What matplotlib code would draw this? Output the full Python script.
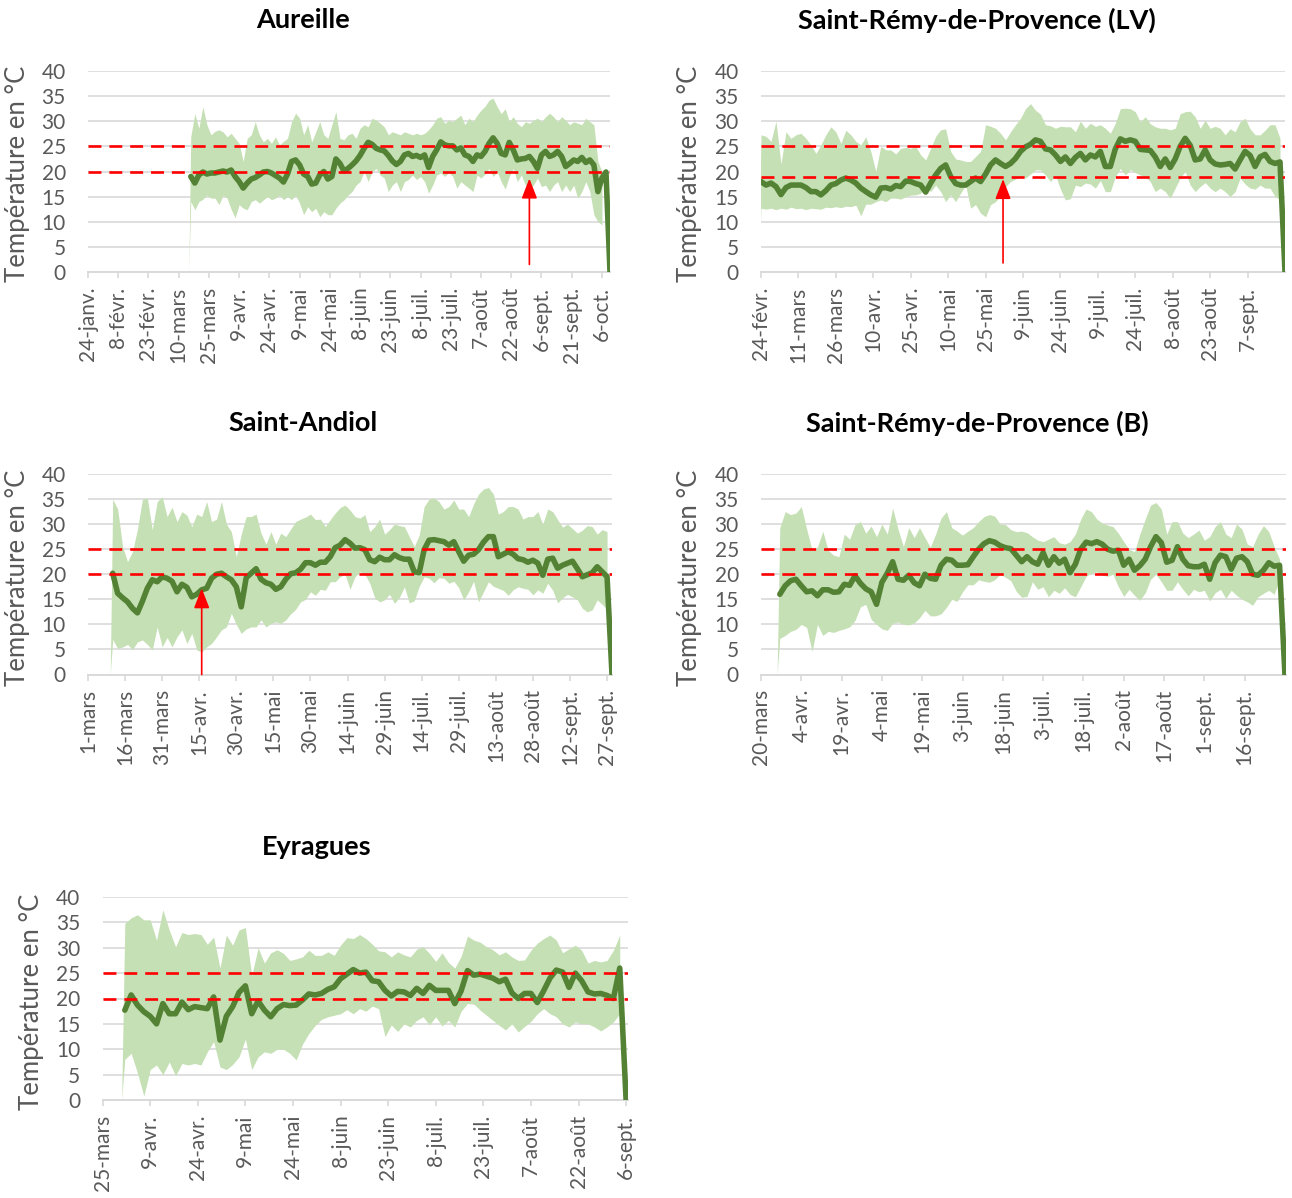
import numpy as np
import pandas as pd
import matplotlib
matplotlib.use("Agg")
import matplotlib.pyplot as plt

plt.rcParams['font.family'] = ['Lato', 'DejaVu Sans']

MOIS = ['janv.', 'févr.', 'mars', 'avr.', 'mai', 'juin', 'juil.',
        'août', 'sept.', 'oct.', 'nov.', 'déc.']

# ---------------------------------------------------------------- Aureille
aur_debut_axe = '2023-01-24'
aur_nb_graduations = 18
aur_premier_jour = '2023-03-16'
aur_moy = [19.0, 17.7, 19.3, 19.9, 19.5, 19.7, 19.7, 19.9, 20.1, 19.9,
           20.3, 19.0, 18.0, 16.7, 17.7, 18.5, 18.8, 19.3, 19.9, 20.0,
           19.7, 19.2, 18.7, 17.9, 19.5, 22.0, 22.3, 21.3, 19.5, 19.0,
           17.5, 17.7, 19.3, 20.0, 18.5, 19.0, 22.5, 21.6, 20.1, 20.6,
           21.3, 22.1, 23.2, 24.6, 25.8, 25.4, 24.6, 24.3, 24.1, 23.2,
           22.1, 21.4, 22.0, 23.3, 23.6, 23.0, 23.2, 22.8, 23.3, 20.8,
           23.0, 24.3, 25.9, 25.3, 25.1, 25.1, 24.3, 24.7, 23.3, 23.0,
           22.0, 23.3, 23.0, 24.0, 25.6, 26.7, 25.6, 23.6, 23.3, 25.8,
           24.3, 22.3, 22.5, 22.6, 23.0, 22.0, 20.6, 23.3, 24.0, 23.0,
           23.3, 24.0, 23.0, 21.0, 21.6, 22.3, 22.0, 22.8, 21.8, 22.3,
           21.3, 16.0, 18.7, 19.9, 0.0]
aur_max = [27.0, 31.5, 28.6, 32.9, 29.3, 27.3, 28.0, 28.3, 27.9, 26.9,
           27.6, 26.6, 25.6, 22.0, 26.6, 27.3, 29.9, 27.3, 25.9, 26.6,
           25.6, 26.9, 25.3, 26.0, 26.6, 29.9, 31.6, 30.6, 27.3, 29.3,
           25.9, 27.9, 29.9, 27.3, 26.6, 29.3, 31.9, 26.6, 26.3, 27.3,
           27.6, 26.6, 28.6, 29.3, 28.9, 30.6, 30.2, 29.6, 28.9, 27.3,
           27.9, 27.6, 27.3, 27.9, 27.6, 27.3, 27.6, 27.3, 27.6, 28.3,
           29.3, 30.6, 30.9, 29.6, 30.2, 29.9, 30.6, 31.2, 29.3, 30.6,
           29.9, 31.2, 32.2, 33.0, 34.2, 34.6, 32.9, 31.5, 32.5, 30.0,
           30.9, 29.6, 28.9, 29.9, 29.6, 30.2, 30.6, 29.9, 30.9, 31.6,
           30.9, 29.9, 30.9, 30.2, 29.3, 29.9, 29.6, 29.3, 30.6, 29.9,
           29.3, 22.0, 20.0]
aur_min = [14.0, 12.4, 14.0, 14.5, 15.3, 14.7, 14.7, 13.4, 15.3, 14.7,
           12.5, 10.8, 13.4, 12.7, 12.4, 14.0, 14.4, 13.7, 14.35, 15.0,
           14.4, 14.7, 15.3, 14.4, 15.0, 14.4, 15.3, 13.7, 11.4, 13.0,
           12.0, 12.7, 11.0, 12.0, 11.4, 11.4, 12.7, 13.7, 14.35, 15.3,
           16.0, 17.3, 18.0, 20.0, 18.0, 20.0, 20.6, 19.3, 18.7, 16.0,
           17.3, 18.0, 16.0, 18.0, 18.4, 19.3, 18.4, 19.0, 18.0, 15.7,
           17.3, 19.3, 19.7, 19.0, 19.8, 19.0, 16.7, 18.0, 17.3, 16.7,
           16.0, 19.3, 18.7, 19.5, 20.6, 19.0, 20.0, 18.0, 16.5, 19.0,
           20.6, 18.0, 19.3, 17.3, 16.7, 17.3, 18.7, 17.0, 17.3, 16.0,
           17.3, 18.0, 16.0, 17.3, 16.0, 17.3, 14.7, 16.0, 18.0, 16.0,
           11.4, 10.0, 9.4]
aur_seuils = [20, 25]
aur_fleche = ('2023-08-31', 18.6)

# ------------------------------------------- Saint-Rémy-de-Provence (LV)
lv_debut_axe = '2023-02-24'
lv_nb_graduations = 14
lv_premier_jour = '2023-02-24'
lv_moy = [18.0, 17.3, 17.7, 17.0, 15.4, 16.8, 17.3, 17.3, 17.3, 16.8,
          16.0, 16.0, 15.35, 16.2, 17.3, 17.6, 18.3, 18.7, 18.3, 17.7,
          16.7, 16.0, 15.35, 14.9, 16.7, 16.8, 16.5, 17.2, 17.0, 18.1,
          18.0, 17.6, 17.3, 15.9, 17.7, 19.3, 20.6, 21.3, 19.0, 17.6,
          17.3, 17.3, 18.0, 18.7, 18.0, 19.5, 21.3, 22.3, 21.6, 21.0,
          21.6, 22.6, 24.0,
          24.9, 25.4, 26.3, 26.0, 24.5, 24.3, 23.3, 22.0, 22.9, 21.6,
          22.8, 23.6, 22.3, 23.3, 22.9, 24.0, 21.0, 21.0, 24.5, 26.5,
          26.0, 26.3, 26.0, 24.4, 24.3, 24.2, 22.9, 21.0, 22.5, 20.8,
          22.5, 25.0, 26.6, 25.2, 22.3, 22.5, 24.3, 22.3, 21.5, 21.3,
          21.4, 21.6, 20.5, 22.3, 24.0, 23.2, 21.0, 22.9, 23.4, 22.0,
          21.6, 21.9, 0.0]
lv_max = [27.3, 27.0, 26.0, 30.0, 21.5, 27.9, 26.6, 27.3, 27.6, 26.6,
          25.3, 23.6, 25.3, 27.3, 28.9, 27.9, 25.6, 28.2, 27.3, 26.0,
          25.3, 26.9, 24.0, 20.0, 25.0, 24.3, 24.3, 23.5, 24.6, 24.8,
          24.6, 25.0, 23.3, 22.3, 24.6, 27.0, 28.3, 28.5, 24.0, 22.5,
          22.3, 22.0, 22.0, 23.0, 24.0, 29.3, 29.0, 28.6, 27.6, 26.3,
          27.9, 29.3, 30.6,
          32.5, 33.5, 32.2, 31.4, 29.3, 29.1, 28.6, 29.0, 28.9, 28.9,
          27.9, 30.0, 28.6, 29.6, 29.0, 29.3, 28.6, 27.6, 29.6, 32.5,
          32.6, 32.5, 31.9, 29.9, 30.9, 29.5, 28.9, 28.6, 28.6, 28.3,
          28.6, 31.5, 31.9, 32.0, 30.9, 28.6, 30.2, 28.6, 29.0, 28.6,
          27.3, 28.5, 27.9, 29.9, 30.6, 28.5, 27.3, 27.3, 28.2, 29.3,
          29.3, 26.6]
lv_min = [12.7, 12.5, 12.7, 12.4, 12.7, 12.5, 12.9, 12.6, 12.7, 12.4,
          12.7, 12.6, 12.5, 12.9, 12.8, 13.0, 12.8, 13.1, 13.0, 13.3,
          11.2, 13.5, 13.5, 14.0, 14.35, 14.0, 14.7, 14.7, 14.5, 15.0,
          15.3, 15.35, 15.7, 17.0, 16.0, 17.3, 16.0, 14.0, 15.35, 14.0,
          15.7, 17.3, 12.7, 13.4, 11.7, 11.0, 13.4, 14.0, 15.3, 17.0,
          18.0, 18.5, 19.0,
          18.7, 19.5, 20.3, 20.3, 19.3, 18.0, 19.3, 16.5, 14.35, 14.6,
          17.3, 17.0, 17.7, 17.5, 16.7, 18.2, 16.0, 16.0, 19.0, 20.6,
          19.3, 20.4, 19.8, 19.3, 19.0, 18.0, 16.0, 16.7, 16.0, 14.7,
          16.7, 18.7, 20.0, 17.3, 16.0, 17.0, 17.8, 16.7, 16.0, 16.7,
          16.0, 15.0, 16.0, 18.7, 17.5, 16.7, 16.5, 17.3, 16.7, 16.7,
          15.0, 14.5]
lv_seuils = [19, 25]
lv_fleche = ('2023-06-01', 18.5)

# ------------------------------------------------------------ Saint-Andiol
and_debut_axe = '2023-03-01'
and_nb_graduations = 15
and_premier_jour = '2023-03-11'
and_moy = [20.2, 16.2, 15.3, 14.5, 13.2, 12.3, 14.6, 17.2, 18.9, 18.5,
           19.5, 19.2, 18.6, 16.5, 18.0, 17.4, 15.5, 16.0, 16.9, 17.2,
           19.2, 20.0, 20.2, 19.5, 18.9, 17.5, 13.5, 19.3, 20.2, 21.1,
           19.0, 18.3, 18.0, 17.0, 17.5, 19.0, 20.1, 20.3, 21.0, 22.3,
           22.3, 21.8, 22.4, 22.4, 23.5, 25.3, 25.8, 26.9, 26.2, 25.2,
           25.3,
           24.9, 22.9, 22.5, 23.4, 22.9, 22.9, 23.9, 23.3, 23.0, 23.0,
           20.5, 20.3, 24.9, 26.8, 26.9, 26.7, 26.5, 25.8, 26.5, 24.5,
           22.6, 23.8, 24.0, 24.9, 26.4, 27.5, 27.5, 23.5, 24.0, 24.5,
           24.0, 23.1, 22.9, 22.4, 22.8, 22.2, 19.8, 23.0, 23.2, 21.2,
           21.8, 22.2, 22.6, 21.1, 19.5, 19.9, 20.3, 21.5, 20.5, 19.5,
           0.0]
and_max = [35.0, 33.0, 25.5, 22.5, 24.5, 29.0, 34.9, 35.2, 28.9, 34.5,
           35.5, 31.5, 33.4, 30.5, 32.5, 31.8, 29.5, 32.0, 31.5, 34.5,
           30.5, 31.0, 34.5, 30.0, 28.5, 23.5, 28.0, 31.5, 31.5, 32.0,
           28.2, 26.0, 28.5, 26.0, 28.2, 27.5, 29.0, 30.5, 31.0, 31.4,
           32.0, 30.9, 31.0, 29.5, 30.9, 32.2, 33.3, 33.8, 32.8, 31.5,
           31.2,
           31.9, 28.5, 29.5, 31.0, 28.0, 28.9, 30.0, 29.7, 29.5, 27.5,
           25.5, 27.8, 33.5, 35.0, 35.2, 34.5, 33.0, 33.5, 34.8, 33.0,
           33.0, 31.5, 34.0, 36.0, 37.0, 37.3, 36.0, 32.0, 32.5, 33.5,
           33.5, 33.0, 31.0, 31.5, 31.5, 32.5, 30.0, 33.0, 32.5, 30.9,
           29.4, 30.0, 29.1, 28.2, 28.8, 29.7, 29.5, 28.0, 28.9, 28.5]
and_min = [7.0, 5.2, 5.5, 6.0, 5.0, 6.5, 6.9, 6.0, 4.9, 9.5,
           5.5, 7.4, 5.5, 7.5, 8.9, 6.2, 8.2, 4.9, 4.5, 5.5,
           6.2, 7.5, 8.9, 9.5, 12.2, 10.0, 8.2, 9.1, 9.5, 9.5,
           10.9, 9.5, 10.2, 10.5, 10.2, 10.9, 12.1, 13.0, 14.5, 15.0,
           16.5, 15.8, 17.0, 16.8, 18.5, 18.5, 19.5, 20.0, 17.0, 19.5,
           20.5,
           20.0, 18.2, 15.3, 14.5, 14.9, 16.0, 14.2, 15.4, 17.5, 14.3,
           14.7, 17.6, 19.5, 19.2, 18.3, 19.3, 19.2, 18.2, 18.6, 17.3,
           14.9, 16.5, 18.6, 14.5, 16.5, 18.5, 17.6, 17.2, 16.8, 15.8,
           16.9, 17.5, 17.2, 17.0, 15.9, 16.9, 16.2, 18.2, 16.8, 14.3,
           15.3, 16.0, 15.5, 14.9, 13.2, 12.5, 12.9, 14.9, 14.0, 13.0]
and_seuils = [20, 25]
and_fleche = ('2023-04-16', 17.2)

# -------------------------------------------- Saint-Rémy-de-Provence (B)
b_debut_axe = '2023-03-20'
b_nb_graduations = 13
b_premier_jour = '2023-03-27'
b_moy = [16.0, 17.7, 18.7, 19.0, 17.7, 16.5, 16.7, 15.7, 16.9, 16.9,
         16.4, 16.5, 18.0, 17.8, 19.7, 18.2, 17.1, 16.5, 14.0, 18.4,
         20.2, 22.5, 19.0, 18.8, 19.8, 18.3, 17.7, 20.0, 19.2, 19.0,
         21.8, 23.0, 22.8, 21.8, 21.8, 21.9, 23.5, 25.0, 26.1, 26.7,
         26.4, 25.7, 25.3, 25.1, 23.8, 22.5, 23.5,
         22.5, 22.0, 24.3, 21.8, 23.5, 22.2, 23.0, 20.3, 22.0, 25.0,
         26.4, 26.1, 26.5, 26.0, 25.0, 24.6, 24.8, 21.8, 23.0, 20.8,
         21.7, 23.0, 25.5, 27.5, 26.3, 22.4, 22.8, 25.5, 23.0, 21.7,
         21.5, 21.5, 22.0, 19.0, 22.3, 23.8, 23.5, 21.0, 23.2, 23.5,
         22.5, 20.0, 19.8, 20.8, 22.3, 21.6, 21.8, 0.0]
b_max = [29.3, 32.5, 31.9, 32.2, 33.5, 29.0, 24.8, 25.4, 28.6, 24.8,
         23.8, 23.5, 28.0, 27.0, 29.9, 30.5, 28.2, 29.6, 27.5, 30.0,
         28.0, 33.2, 29.0, 25.5, 29.3, 27.3, 29.3, 27.3, 25.4, 28.0,
         31.2, 32.5, 29.3, 28.6, 27.8, 28.6, 29.3, 30.5, 31.5, 31.9,
         31.6, 30.0, 29.9, 28.9, 28.5, 28.6, 28.3,
         27.5, 26.8, 26.5, 27.0, 27.5, 26.3, 26.0, 26.5, 28.0, 31.0,
         33.0, 32.5, 31.0, 30.2, 29.8, 29.5, 28.2, 26.5, 25.0, 24.5,
         28.0, 31.0, 33.8, 34.3, 33.0, 28.0, 30.5, 30.5, 28.2, 27.3,
         28.0, 28.8, 26.8, 27.5, 29.5, 30.5, 28.0, 27.3, 30.0, 29.0,
         26.0, 25.5, 28.0, 29.7, 28.5, 25.5, 23.0]
b_min = [7.2, 7.8, 8.6, 9.0, 10.0, 9.4, 4.6, 10.0, 7.8, 8.6,
         8.4, 8.8, 9.1, 9.5, 10.8, 13.5, 14.0, 11.0, 10.0, 9.1,
         8.8, 10.2, 10.5, 10.0, 9.9, 10.3, 11.3, 12.8, 11.7, 11.7,
         12.1, 13.4, 15.0, 14.6, 16.5, 17.9, 17.9, 18.9, 18.6, 18.4,
         18.9, 20.0, 19.4, 18.7, 16.6, 15.4, 15.6,
         18.5, 17.0, 17.5, 15.5, 16.8, 16.2, 17.3, 16.0, 15.5, 17.5,
         19.6, 20.2, 20.5, 19.8, 19.6, 20.0, 17.5, 15.6, 17.0, 15.8,
         14.8, 16.3, 19.0, 20.0, 18.5, 16.8, 16.8, 18.5, 17.0, 15.7,
         17.0, 16.5, 16.8, 14.7, 16.3, 17.0, 15.2, 16.8, 15.8, 15.0,
         14.5, 13.8, 15.5, 16.2, 16.8, 16.0, 19.0]
b_seuils = [20, 25]

# ---------------------------------------------------------------- Eyragues
eyr_debut_axe = '2023-03-25'
eyr_nb_graduations = 12
eyr_premier_jour = '2023-04-01'
eyr_moy = [17.7, 20.7, 18.7, 17.4, 16.5, 15.0, 19.0, 17.0, 17.0, 19.3,
           17.8, 18.4, 18.2, 18.0, 20.3, 11.8, 16.5, 18.4, 21.2, 22.5,
           17.0, 19.5, 17.7, 16.4, 18.0, 18.8, 18.6, 18.7, 19.7, 20.9,
           20.7, 21.0, 21.8, 22.3, 23.9, 24.8, 25.7, 25.0, 25.2, 23.5,
           23.3, 21.6, 20.5, 21.4, 21.3, 20.6, 22.0, 21.0, 22.6, 21.6,
           21.6, 21.6, 19.0, 21.5, 25.5, 24.6, 24.8, 24.4, 24.0, 23.3,
           23.8, 21.1, 20.0, 21.0, 21.0, 19.2, 21.5, 24.0, 25.6, 25.2,
           22.2, 25.0, 23.5, 21.3, 20.9, 21.0, 20.6, 20.0, 26.0, 0.0]
eyr_max = [34.8, 35.9, 36.5, 35.5, 35.5, 31.5, 37.5, 33.5, 30.2, 33.0,
           32.6, 32.8, 32.6, 30.7, 32.1, 26.0, 32.5, 30.5, 33.5, 34.0,
           24.5, 30.0, 27.0, 29.0, 29.6, 28.9, 27.5, 27.8, 28.2, 29.5,
           28.5, 28.5, 29.2, 28.5, 30.5, 32.0, 31.8, 32.6, 31.8, 30.7,
           29.4, 29.2, 28.2, 29.2, 28.6, 28.2, 29.7, 30.2, 28.9, 27.3,
           29.0, 27.1, 26.0, 28.3, 32.3, 31.5, 31.1, 30.2, 29.6, 28.6,
           29.2, 28.2, 27.5, 27.6, 29.5, 30.9, 31.8, 32.5, 31.5, 29.0,
           29.8, 30.5, 29.5, 27.0, 27.5, 27.2, 27.5, 29.5, 32.5]
eyr_min = [8.0, 9.2, 5.3, 0.8, 6.0, 6.9, 5.0, 7.5, 4.8, 7.2,
           6.9, 7.2, 6.9, 9.5, 11.5, 6.5, 6.0, 7.0, 8.5, 12.0,
           6.0, 8.5, 9.5, 9.2, 10.0, 10.0, 9.2, 7.9, 11.0, 13.1,
           14.7, 15.9, 16.4, 16.7, 17.0, 17.8, 17.0, 18.0, 17.5, 18.5,
           18.0, 12.5, 14.8, 13.5, 15.0, 14.4, 15.7, 16.4, 14.8, 16.4,
           14.6, 15.7, 14.4, 17.5, 19.0, 18.9, 17.7, 16.7, 15.7, 14.7,
           13.8, 15.0, 13.4, 14.5, 15.5, 17.0, 18.0, 17.0, 16.4, 15.0,
           14.4, 15.4, 15.0, 15.0, 14.4, 13.6, 14.4, 15.4, 17.0]
eyr_seuils = [20, 25]

PAS_JOURS = 2
TITRE_Y = 'Température en °C'

# ------------------------------------------------------------------ figure
W, H = 1292, 1198
fig = plt.figure(figsize=(W / 100, H / 100), dpi=100)

VERT_CLAIR = '#C5E0B4'
VERT_FONCE = '#548235'
GRIS_GRILLE = '#D9D9D9'
GRIS_TEXTE = '#595959'
ROUGE = '#FF0000'
FS_TICK = 15
FS_LAB = 18.5
FS_TITRE = 19.5


def libelle(ts):
    return f"{ts.day}-{MOIS[ts.month - 1]}"


def panneau(rect, fin_axe, titre, pos_titre, pos_lab, debut_axe, nb_grad,
            premier, moy, tmax, tmin, seuils, fleche=None, base_fleche=0.0):
    l, t, r, b = rect
    ax = fig.add_axes([l / W, 1 - b / H, (r - l) / W, (b - t) / H])
    t0 = pd.Timestamp(debut_axe)
    d0 = (pd.Timestamp(premier) - t0).days

    # band between daily minimum and maximum (stacked-area style start)
    xb = d0 + PAS_JOURS * np.arange(len(tmax))
    xb = np.concatenate([[d0 - 1], xb])
    lo = np.concatenate([[0.0], np.asarray(tmin, float)])
    hi = np.concatenate([[0.0], np.asarray(tmax, float)])
    ax.fill_between(xb, lo, hi, color=VERT_CLAIR, lw=0, zorder=2)

    # daily mean
    xm = d0 + PAS_JOURS * np.arange(len(moy))
    ax.plot(xm, moy, color=VERT_FONCE, lw=4.0, solid_joinstyle='round',
            solid_capstyle='round', zorder=3)

    for s in seuils:
        ax.axhline(s, color=ROUGE, lw=1.9, dashes=(4.9, 3.0), zorder=4)

    if fleche is not None:
        xa = (pd.Timestamp(fleche[0]) - t0).days
        ax.annotate('', xy=(xa, fleche[1]), xytext=(xa, base_fleche),
                    arrowprops=dict(arrowstyle='-|>,head_length=0.87,head_width=0.34',
                                    color=ROUGE, lw=1.2, mutation_scale=14,
                                    shrinkA=0, shrinkB=0),
                    zorder=6)

    ax.set_xlim(0, fin_axe)
    ax.set_ylim(0, 40)
    ax.set_yticks(np.arange(0, 41, 5))
    ax.grid(axis='y', color=GRIS_GRILLE, lw=1.2, zorder=0)
    ax.set_axisbelow(True)

    pos = np.arange(nb_grad) * 15
    ax.set_xticks(pos)
    ax.set_xticklabels([libelle(t0 + pd.Timedelta(days=int(p))) for p in pos],
                       rotation=90, fontsize=FS_TICK, color=GRIS_TEXTE)
    ax.tick_params(axis='x', length=4.5, width=1.2, color=GRIS_GRILLE, pad=6)
    ax.tick_params(axis='y', length=0, pad=16, labelsize=FS_TICK,
                   labelcolor=GRIS_TEXTE)
    for side in ('left', 'right', 'top'):
        ax.spines[side].set_visible(False)
    ax.spines['bottom'].set_color(GRIS_GRILLE)
    ax.spines['bottom'].set_linewidth(1.4)
    ax.spines['bottom'].set_zorder(1)

    fig.text(pos_titre[0] / W, 1 - pos_titre[1] / H, titre, ha='center',
             va='center', fontsize=FS_TITRE, fontweight='bold', color='black')
    fig.text(pos_lab[0] / W, 1 - pos_lab[1] / H, TITRE_Y, ha='center',
             va='center', rotation=90, fontsize=FS_LAB, color=GRIS_TEXTE)
    return ax


panneau((88, 71, 610, 272), 259, 'Aureille', (303, 20), (18, 174),
        aur_debut_axe, aur_nb_graduations, aur_premier_jour,
        aur_moy, aur_max, aur_min, aur_seuils, aur_fleche, 1.5)
panneau((761, 71, 1285, 272), 210, 'Saint-Rémy-de-Provence (LV)', (977, 20),
        (690, 174), lv_debut_axe, lv_nb_graduations, lv_premier_jour,
        lv_moy, lv_max, lv_min, lv_seuils, lv_fleche, 1.8)
panneau((88, 474, 612, 674.5), 212, 'Saint-Andiol', (303, 423), (18, 578),
        and_debut_axe, and_nb_graduations, and_premier_jour,
        and_moy, and_max, and_min, and_seuils, and_fleche, 0.0)
panneau((761, 474, 1286, 674.5), 195.4, 'Saint-Rémy-de-Provence (B)',
        (977, 423), (690, 578), b_debut_axe, b_nb_graduations,
        b_premier_jour, b_moy, b_max, b_min, b_seuils)
panneau((102.6, 897, 628, 1100), 165.6, 'Eyragues', (317, 847), (32, 1002),
        eyr_debut_axe, eyr_nb_graduations, eyr_premier_jour,
        eyr_moy, eyr_max, eyr_min, eyr_seuils)

fig.savefig('out.png', dpi=100, facecolor='white')
